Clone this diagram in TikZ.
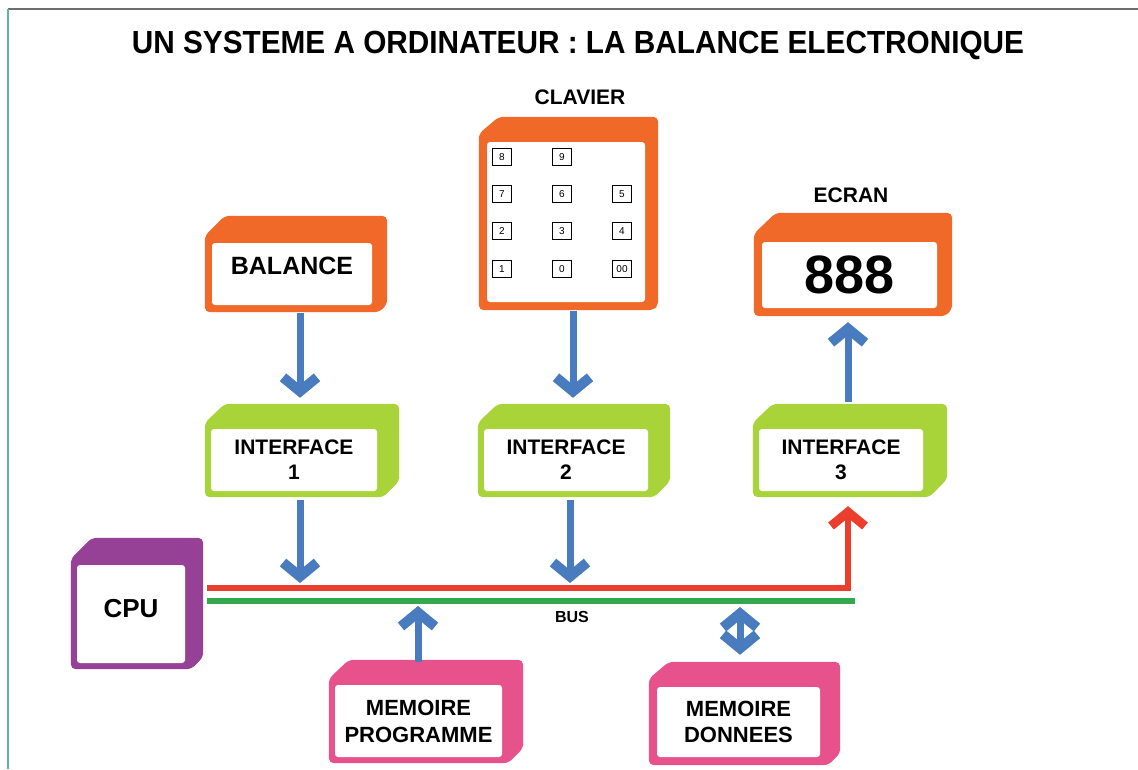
\documentclass[tikz,border=0pt]{standalone}
\usepackage{fontspec}
\setmainfont{Liberation Sans}
\usetikzlibrary{calc,arrows.meta,backgrounds}

\pgfdeclarelayer{paper}
\pgfsetlayers{paper,background,main}

\definecolor{boxorange}{RGB}{240,105,40}
\definecolor{boxgreen}{RGB}{168,212,58}
\definecolor{boxpurple}{RGB}{150,65,150}
\definecolor{boxpink}{RGB}{232,82,140}
\definecolor{flowblue}{RGB}{72,124,190}
\definecolor{busred}{RGB}{236,62,44}
\definecolor{busgreen}{RGB}{52,168,78}
\definecolor{frameteal}{RGB}{95,178,172}
\definecolor{framegray}{RGB}{110,110,110}

% coloured block behind a white face: border, chamfer (x,y), right depth
\newcommand\solidbody[6]{%
  \begin{scope}[on background layer]
    \fill[#2, rounded corners=5pt]
      ($(#1.north west)+(-#3,-#3)$) -- ++(#4,-#5)
      -- ($(#1.north east)+(#6,-#3-#5)$)
      -- ($(#1.south east)+(#6,2*#3-#6)$)
      -- ($(#1.south east)+(#3,#3)$)
      -- ($(#1.south west)+(-#3,#3)$) -- cycle;
  \end{scope}}

\tikzset{
  flowtip/.tip={Straight Barb[length=14pt,width=34pt,line width=10pt,sharp]},
  face/.style={fill=white, rounded corners=3pt, inner sep=0pt, align=center},
  labeltext/.style={font=\bfseries\fontsize{21}{25}\selectfont},
  key/.style={draw=black, line width=0.9pt, fill=white, minimum width=19pt,
    minimum height=17pt, inner sep=0pt, font=\fontsize{10}{10}\selectfont},
  flow/.style={draw=flowblue, line width=7pt, -flowtip},
  redbus/.style={draw=busred, line width=5.5pt, line join=miter,
    -{Straight Barb[length=14pt,width=34pt,line width=9pt,sharp]}},
  greenbus/.style={draw=busgreen, line width=5.5pt},
}

\begin{document}
\begin{tikzpicture}[x=1pt,y=-1pt]
\useasboundingbox (0,0) rectangle (1138,769);
\begin{pgfonlayer}{paper}
  \fill[white] (0,0) rectangle (1138,769);
\end{pgfonlayer}

% frame
\draw[framegray, line width=1.2pt] (8,9) -- (1138,9);
\draw[frameteal, line width=1.5pt] (8,9) -- (8,769);

% title and captions
\node[font=\bfseries\fontsize{32}{32}\selectfont] (title) at (578,45)
  {\scalebox{0.93}[1]{UN SYSTEME A ORDINATEUR : LA BALANCE ELECTRONIQUE}};
\node[font=\bfseries\fontsize{21}{21}\selectfont] (clavcap) at (580,97) {CLAVIER};
\node[font=\bfseries\fontsize{21}{21}\selectfont] (ecrancap) at (851,195) {ECRAN};

% devices
\node[face, minimum width=160pt, minimum height=62pt, text depth=16pt,
  font=\bfseries\fontsize{25}{25}\selectfont] (bal) at (292,274) {BALANCE};
\solidbody{bal}{boxorange}{7}{20}{20}{15}

\node[face, minimum width=158pt, minimum height=160pt] (clav) at (566,222) {};
\solidbody{clav}{boxorange}{8}{20}{17}{13}

\node[face, minimum width=175pt, minimum height=66pt,
  font=\bfseries\fontsize{54}{54}\selectfont] (ecran) at (849.5,275) {888};
\solidbody{ecran}{boxorange}{8}{22}{21}{15}

% keypad
\foreach \lab/\cx/\cy/\nm in {8/502/157/k8, 9/562/157/k9,
    7/502/194/k7, 6/562/194/k6, 5/622/194/k5,
    2/502/231/k2, 3/562/231/k3, 4/622/231/k4,
    1/502/269/k1, 0/562/269/k0, 00/622/269/k00}
  \node[key] (\nm) at (\cx,\cy) {\lab};

% interfaces
\node[face, labeltext, minimum width=166pt, minimum height=62pt] (if1) at (294,460) {INTERFACE\\1};
\solidbody{if1}{boxgreen}{6}{20}{19}{22}
\node[face, labeltext, minimum width=164pt, minimum height=62pt] (if2) at (566,460) {INTERFACE\\2};
\solidbody{if2}{boxgreen}{6}{20}{19}{22}
\node[face, labeltext, minimum width=164pt, minimum height=62pt] (if3) at (841,460) {INTERFACE\\3};
\solidbody{if3}{boxgreen}{6}{20}{19}{24}

% processor and memories
\node[face, minimum width=108pt, minimum height=98pt, text depth=12pt,
  font=\bfseries\fontsize{26}{26}\selectfont] (cpu) at (131,614) {CPU};
\solidbody{cpu}{boxpurple}{6}{21}{21}{18}

\node[face, font=\bfseries\fontsize{22}{27}\selectfont,
  minimum width=167pt, minimum height=72pt] (mp) at (418.5,721) {MEMOIRE\\PROGRAMME};
\solidbody{mp}{boxpink}{6}{20}{19}{21}
\node[face, font=\bfseries\fontsize{22}{26}\selectfont,
  minimum width=163pt, minimum height=70pt] (md) at (738.5,722) {MEMOIRE\\DONNEES};
\solidbody{md}{boxpink}{8}{20}{17}{20}

% bus
\coordinate (redstart) at (207,588);
\coordinate (greenstart) at (207,601);
\coordinate (greenend) at (855,601);
\coordinate (tap1) at (300,583);
\coordinate (tap2) at (570,583);
\coordinate (tapP) at (418,606);
\coordinate (tapD) at (740,607);
\draw[greenbus] (greenstart) -- (greenend);
\draw[redbus] (redstart) -| ($(if3.south)+(7,15)$);
\node[font=\bfseries\fontsize{16}{16}\selectfont] (buslabel) at (572,617) {BUS};

% data flow
\draw[flow] ($(bal.south)+(8,8)$) -- ($(if1.north)+(6,-31)$);
\draw[flow] ($(clav.south)+(7,9)$) -- ($(if2.north)+(7,-31)$);
\draw[flow] ($(if3.north)+(7,-27)$) -- ($(ecran.south)+(-1.5,14)$);
\draw[flow] ($(if1.south)+(6,9)$) -- (tap1);
\draw[flow] ($(if2.south)+(4,9)$) -- (tap2);
\draw[flow] ($(mp.north)+(-0.5,-23)$) -- (tapP);
\draw[flow, flowtip-flowtip] (tapD) -- ($(md.north)+(1.5,-32)$);
\end{tikzpicture}
\end{document}
